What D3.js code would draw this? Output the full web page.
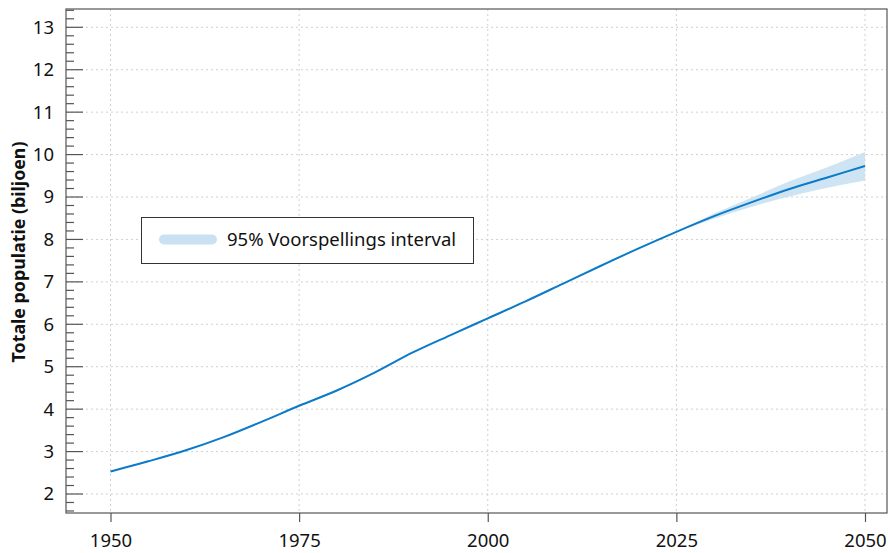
<!DOCTYPE html>
<html><head><meta charset="utf-8">
<script src="https://cdn.jsdelivr.net/npm/d3@7"></script>
<style>body{margin:0;background:#fff}svg{display:block;font-family:"Noto Sans",sans-serif}</style>
</head><body>
<svg id="c" width="890" height="553"></svg>
<script>
const years = [1950,1955,1960,1965,1970,1975,1980,1985,1990,1995,2000,2005,2010,2015,2020,2025,2030,2035,2040,2045,2050];
const population = [2.53,2.77,3.03,3.34,3.70,4.08,4.44,4.86,5.33,5.74,6.14,6.54,6.96,7.38,7.79,8.18,8.55,8.88,9.19,9.46,9.73];
const bandYears = [2025,2030,2035,2040,2045,2050];
const bandLower = [8.18,8.49,8.77,9.01,9.22,9.39];
const bandUpper = [8.18,8.61,8.99,9.37,9.70,10.06];
const xTicks = [1950,1975,2000,2025,2050];
const yTicks = [2,3,4,5,6,7,8,9,10,11,12,13];
const legendLabel = "95% Voorspellings interval";
const yTitle = "Totale populatie (biljoen)";

const svg = d3.select("#c");
const L=66, R=887, T=9, B=513;
const x = d3.scaleLinear().domain([1950,2050]).range([110.5,865]);
const y = d3.scaleLinear().domain([2,13]).range([494,27.3]);

// grid
const g = svg.append("g");
g.selectAll(".gx").data(xTicks).join("line")
  .attr("x1",d=>x(d)).attr("x2",d=>x(d)).attr("y1",T).attr("y2",B)
  .attr("stroke","#d0d0d0").attr("stroke-dasharray","2,3");
g.selectAll(".gy").data(yTicks).join("line")
  .attr("x1",L).attr("x2",R).attr("y1",d=>y(d)).attr("y2",d=>y(d))
  .attr("stroke","#d0d0d0").attr("stroke-dasharray","2,3");

// band
const band = bandYears.map((yr,i)=>({yr,lo:bandLower[i],hi:bandUpper[i]}));
svg.append("path").datum(band)
  .attr("d", d3.area().x(d=>x(d.yr)).y0(d=>y(d.lo)).y1(d=>y(d.hi)).curve(d3.curveMonotoneX))
  .attr("fill","#c9e1f2").attr("opacity",0.9);

// line
const pts = years.map((yr,i)=>({yr,v:population[i]}));
svg.append("path").datum(pts)
  .attr("d", d3.line().x(d=>x(d.yr)).y(d=>y(d.v)).curve(d3.curveMonotoneX))
  .attr("fill","none").attr("stroke","#0a7ac9").attr("stroke-width",2);

// frame
svg.append("rect").attr("x",L).attr("y",T).attr("width",R-L).attr("height",B-T)
  .attr("fill","none").attr("stroke","#555").attr("stroke-width",1.2);

// y axis minor/major ticks (inside)
const minor = d3.range(1.6,13.41,0.2).map(v=>Math.round(v*10)/10);
svg.append("g").selectAll("line").data(minor).join("line")
  .attr("x1",L).attr("x2",d=>Number.isInteger(d)?L+17:L+8)
  .attr("y1",d=>y(d)).attr("y2",d=>y(d))
  .attr("stroke","#555").attr("stroke-width",1.2);

// y axis labels via d3 axis
const yAxis = svg.append("g").attr("transform",`translate(${L},0)`)
  .call(d3.axisLeft(y).tickValues(yTicks).tickSize(0).tickPadding(12));
yAxis.select(".domain").remove();
yAxis.selectAll("text").attr("font-size",18.5).attr("fill","#111").attr("font-family","Noto Sans");

// x axis
const xAxis = svg.append("g").attr("transform",`translate(0,${B})`)
  .call(d3.axisBottom(x).tickValues(xTicks).tickFormat(d3.format("d")).tickSize(9).tickPadding(12));
xAxis.select(".domain").remove();
xAxis.selectAll("line").attr("stroke","#555").attr("stroke-width",1.2);
xAxis.selectAll("text").attr("font-size",18.5).attr("fill","#111").attr("font-family","Noto Sans");

// y title
svg.append("text").attr("transform","translate(25,252) rotate(-90)")
  .attr("text-anchor","middle").attr("font-size",17.8).attr("font-weight","bold").attr("fill","#111")
  .text(yTitle);

// legend
const lg = svg.append("g");
lg.append("rect").attr("x",141.5).attr("y",217.5).attr("width",332).attr("height",46)
  .attr("fill","#fff").attr("stroke","#333").attr("stroke-width",1);
lg.append("line").attr("x1",164).attr("x2",212).attr("y1",239.5).attr("y2",239.5)
  .attr("stroke","#c9e1f2").attr("stroke-width",10).attr("stroke-linecap","round");
lg.append("text").attr("x",227).attr("y",246).attr("font-size",18.5).attr("fill","#111").text(legendLabel);
</script>
</body></html>
